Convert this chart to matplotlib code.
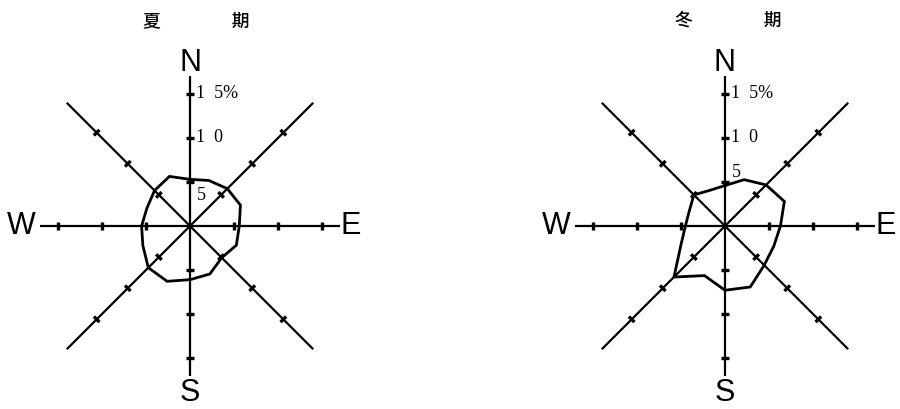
import numpy as np
import matplotlib
matplotlib.use("Agg")
import matplotlib.pyplot as plt

# 16 compass points, clockwise from north
directions = ["N", "NNE", "NE", "ENE", "E", "ESE", "SE", "SSE",
              "S", "SSW", "SW", "WSW", "W", "WNW", "NW", "NNW"]

# wind direction frequency (%)
summer_freq = [5.3, 5.6, 6.0, 6.2, 5.6, 5.7, 5.1, 5.9,
               6.1, 6.8, 6.7, 5.8, 5.5, 5.3, 5.7, 6.1]
winter_freq = [4.6, 5.7, 6.6, 7.3, 6.3, 6.0, 6.3, 7.5,
               7.3, 6.1, 8.2, 5.4, 4.5, 4.4, 5.0, 4.4]

ring_ticks = [5, 10, 15]
ring_labels = ["1  5%", "1  0", "5"]
cardinal_labels = ["N", "E", "S", "W"]
titles = ["夏　　　　期", "冬　　　　期"]

PX_PER_UNIT = 8.8
W_PX, H_PX = 900, 409
CY = 183  # rose centre height (px from bottom)

fig = plt.figure(figsize=(W_PX / 100, H_PX / 100), dpi=100)
fig.patch.set_facecolor("white")

CJK = ["Noto Sans CJK JP", "DejaVu Sans"]
LETTER = ["Liberation Sans", "DejaVu Sans"]
SERIF = ["Liberation Serif", "DejaVu Serif"]


def make_axes(cx, left, right):
    ax = fig.add_axes([left / W_PX, 0, (right - left) / W_PX, 1])
    ax.set_xlim((left - cx) / PX_PER_UNIT, (right - cx) / PX_PER_UNIT)
    ax.set_ylim(-CY / PX_PER_UNIT, (H_PX - CY) / PX_PER_UNIT)
    ax.set_axis_off()
    return ax


def draw_rose(ax, freq, title, five_y, title_dx):
    # eight direction arms with ticks every 5 %
    for k in range(8):
        th = np.deg2rad(k * 45)
        length = 17.0 if k % 2 == 0 else 19.8
        ux, uy = np.sin(th), np.cos(th)
        ax.plot([0, length * ux], [0, length * uy], color="black",
                lw=1.6, solid_capstyle="butt", zorder=2)
        px, py = -uy, ux
        for t in ring_ticks:
            h = 0.45
            ax.plot([t * ux - h * px, t * ux + h * px],
                    [t * uy - h * py, t * uy + h * py],
                    color="black", lw=2.4, solid_capstyle="butt", zorder=2)

    # frequency polygon
    ang = np.deg2rad(np.arange(len(directions)) * 22.5)
    r = np.array(freq)
    xs = np.append(r * np.sin(ang), r[0] * np.sin(ang[0]))
    ys = np.append(r * np.cos(ang), r[0] * np.cos(ang[0]))
    ax.plot(xs, ys, color="black", lw=2.0, solid_joinstyle="miter", zorder=3)

    # scale labels on the north arm
    ax.text(0.7, 15, ring_labels[0], fontsize=13, family=SERIF,
            ha="left", va="center")
    ax.text(0.7, 10, ring_labels[1], fontsize=13, family=SERIF,
            ha="left", va="center")
    ax.text(0.8, five_y, ring_labels[2], fontsize=13, family=SERIF,
            ha="left", va="center")

    # compass letters
    pos = {"N": (0, 18.5), "E": (18.3, 0), "S": (0, -19.0), "W": (-19.2, 0)}
    for lab in cardinal_labels:
        x, y = pos[lab]
        ax.text(x, y, lab, fontsize=22, family=LETTER,
                ha="center", va="center")

    ax.text(title_dx, 23.3, title, fontsize=12.8, family=CJK, weight="medium",
            ha="center", va="center")


ax_l = make_axes(190, 0, 380)
draw_rose(ax_l, summer_freq, titles[0], 3.5, 0.7)

ax_r = make_axes(725, 545, 900)
draw_rose(ax_r, winter_freq, titles[1], 6.1, 0.4)

fig.savefig("out.png", dpi=100, facecolor="white")
